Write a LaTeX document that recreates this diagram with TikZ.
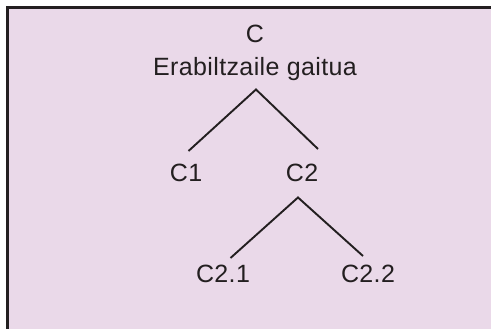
\documentclass[tikz,border=0pt]{standalone}
\usepackage{fontspec}
\setmainfont{Liberation Sans}[LetterSpace=1.5]
\definecolor{bgpink}{RGB}{234,217,233}
\definecolor{ink}{RGB}{35,31,32}
\begin{document}
\begin{tikzpicture}[x=1pt,y=-1pt,
  lbl/.style={anchor=base,inner sep=0pt,text=ink,font=\fontsize{25}{33}\selectfont},
  edge/.style={draw=ink,line width=1.9pt}]
\useasboundingbox (0,0) rectangle (491,329);
\begin{scope}
\clip (0,0) rectangle (491,329);
\draw[fill=bgpink,draw=ink,line width=2.8pt] (7.5,7.5) rectangle (520,360);
\end{scope}
\node[lbl] (rootc) at (255,43) {C};
\node[lbl] (root) at (255,76) {Erabiltzaile gaitua};
\node[lbl] (c1) at (186,182) {C1};
\node[lbl] (c2) at (302,182) {C2};
\node[lbl] (c21) at (223,283) {C2.1};
\node[lbl] (c22) at (368,283) {C2.2};
\coordinate (rootapex) at (256,89.5);
\coordinate (c1end) at (188.5,151);
\coordinate (c2end) at (318,149);
\coordinate (c2apex) at (298,197.5);
\coordinate (c21end) at (230.5,258);
\coordinate (c22end) at (363,256);
\draw[edge] (c1end) -- (rootapex) -- (c2end);
\draw[edge] (c21end) -- (c2apex) -- (c22end);
\end{tikzpicture}
\end{document}
